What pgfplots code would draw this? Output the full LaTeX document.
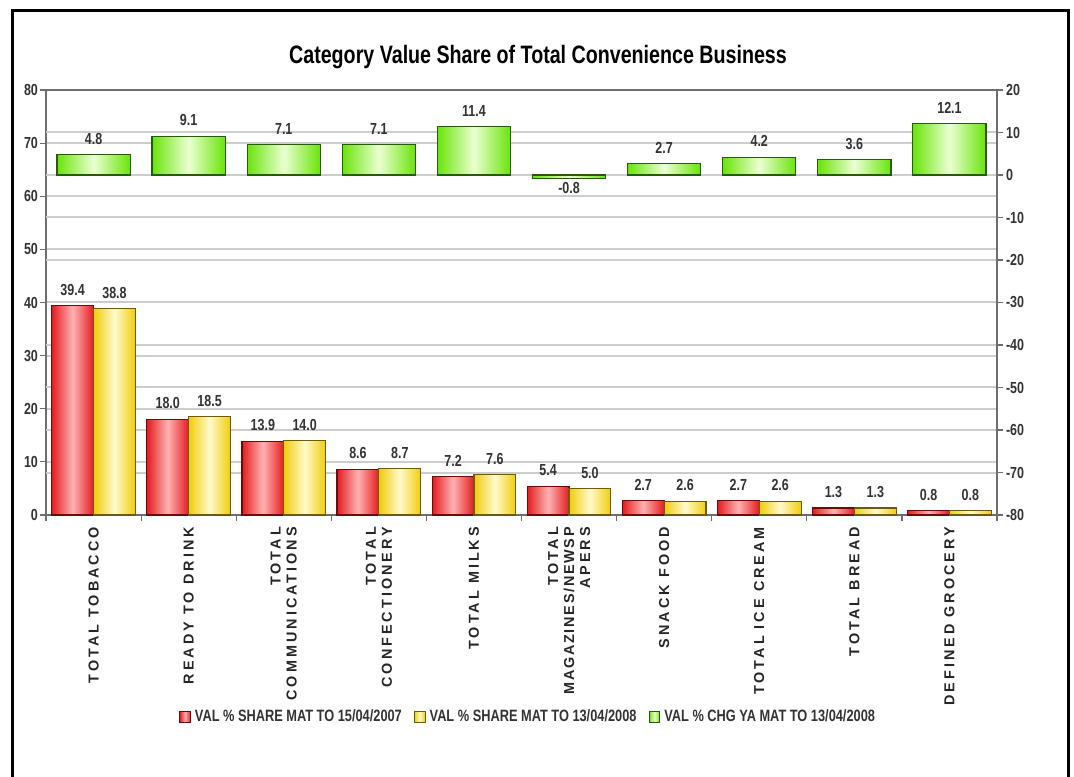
\documentclass[border=0pt]{standalone}
\usepackage{fontspec}
\setmainfont{Liberation Sans}
\newfontfamily\nb[FakeStretch=0.78]{Liberation Sans}
\newfontfamily\xl[LetterSpace=21]{Liberation Sans}
\usepackage{pgfplots}
\pgfplotsset{compat=1.18}

\definecolor{redE}{RGB}{228,28,32}
\definecolor{redM}{RGB}{255,178,178}
\definecolor{redD}{RGB}{110,10,10}
\definecolor{yelE}{RGB}{240,205,10}
\definecolor{yelM}{RGB}{255,250,205}
\definecolor{yelD}{RGB}{110,90,10}
\definecolor{grnE}{RGB}{105,228,10}
\definecolor{grnM}{RGB}{235,255,210}
\definecolor{grnD}{RGB}{40,90,10}
\definecolor{gridc}{RGB}{205,205,205}
\definecolor{axc}{RGB}{110,110,110}

\pgfplotsset{
  /pgf/number format/assume math mode=true,
  sq legend/.style={legend image code/.code={\draw[##1,line width=0.5pt] (0pt,-2.8pt) rectangle (5.4pt,2.8pt);}},
  lbl/.style={nodes near coords={\pgfmathprintnumber[fixed,fixed zerofill,precision=1]{\pgfplotspointmeta}},
    every node near coord/.append style={font=\nb\bfseries\fontsize{8}{9}\selectfont, text=black!80, yshift=1.5pt}},
  redbar/.style={ybar, bar width=0.44, bar shift=0pt, draw=redD, line width=0.6pt,
    left color=redE, right color=redE, middle color=redM, lbl, forget plot},
  yelbar/.style={ybar, bar width=0.44, bar shift=0pt, draw=yelD, line width=0.6pt,
    left color=yelE, right color=yelE, middle color=yelM, lbl, forget plot},
  grnbar/.style={ybar, bar width=0.77, bar shift=0pt, draw=grnD, line width=0.6pt,
    left color=grnE, right color=grnE, middle color=grnM, lbl, forget plot},
}

\begin{document}
\begin{tikzpicture}
\path[use as bounding box] (0,0) rectangle (537pt,388pt);
\draw[line width=1.5pt] (6pt,-2pt) -- (6pt,382.5pt) -- (534pt,382.5pt) -- (534pt,-2pt);
\node[font=\nb\bfseries\fontsize{12.6}{14}\selectfont] at (269pt,359.5pt) {Category Value Share of Total Convenience Business};

\begin{axis}[
  at={(23pt,130.5pt)}, anchor=south west,
  scale only axis, width=475.5pt, height=212.5pt,
  xmin=-0.5, xmax=9.5, ymin=0, ymax=80,
  xtick={-0.5,0.5,...,9.5}, xticklabels={},
  extra x ticks={0,1,2,3,4,5,6,7,8,9},
  extra x tick labels={TOTAL TOBACCO, READY TO DRINK, {TOTAL\\COMMUNICATIONS}, {TOTAL\\CONFECTIONERY}, TOTAL MILKS, {TOTAL\\{\addfontfeature{LetterSpace=12}MAGAZINES/NEWSP}\\APERS}, SNACK FOOD, TOTAL ICE CREAM, TOTAL BREAD, DEFINED GROCERY},
  extra x tick style={major tick length=0pt, grid=none},
  xticklabel style={rotate=90, anchor=east, align=right, xshift=-2.5pt, font=\xl\bfseries\fontsize{7.2}{8}\selectfont, text=black!85},
  ytick={0,10,...,80},
  ymajorgrids,
  extra y ticks={8,16,24,32,48,56,64,72}, extra y tick labels={},
  extra y tick style={grid=major, major tick length=0pt},
  grid style={gridc, line width=1pt},
  tick align=outside, major tick length=3pt,
  tick style={axc, line width=0.6pt},
  yticklabel style={font=\nb\bfseries\fontsize{8}{9}\selectfont, text=black!80, xshift=2.5pt},
  axis line style={axc, line width=0.9pt},
  ytick pos=left, xtick pos=bottom,
  legend style={at={(0.508,-0.475)}, anchor=center, draw=none, fill=none,
    legend columns=3, font=\nb\bfseries\fontsize{8.2}{9}\selectfont, text=black!80,
    /tikz/every even column/.append style={column sep=4pt},
    inner sep=0pt},
  legend cell align=left,
  clip=false,
]
% VAL % SHARE MAT TO 15/04/2007 (red), at category - 0.22
\addplot[redbar] coordinates {(-0.22,39.4)};
\addplot[redbar] coordinates {(0.78,18.0)};
\addplot[redbar] coordinates {(1.78,13.9)};
\addplot[redbar] coordinates {(2.78,8.6)};
\addplot[redbar] coordinates {(3.78,7.2)};
\addplot[redbar] coordinates {(4.78,5.4)};
\addplot[redbar] coordinates {(5.78,2.7)};
\addplot[redbar] coordinates {(6.78,2.7)};
\addplot[redbar] coordinates {(7.78,1.3)};
\addplot[redbar] coordinates {(8.78,0.8)};
% VAL % SHARE MAT TO 13/04/2008 (yellow), at category + 0.22
\addplot[yelbar] coordinates {(0.22,38.8)};
\addplot[yelbar] coordinates {(1.22,18.5)};
\addplot[yelbar] coordinates {(2.22,14.0)};
\addplot[yelbar] coordinates {(3.22,8.7)};
\addplot[yelbar] coordinates {(4.22,7.6)};
\addplot[yelbar] coordinates {(5.22,5.0)};
\addplot[yelbar] coordinates {(6.22,2.6)};
\addplot[yelbar] coordinates {(7.22,2.6)};
\addplot[yelbar] coordinates {(8.22,1.3)};
\addplot[yelbar] coordinates {(9.22,0.8)};
\addlegendimage{sq legend, draw=redD, left color=redE, right color=redE, middle color=redM}
\addlegendentry{VAL \% SHARE MAT TO 15/04/2007}
\addlegendimage{sq legend, draw=yelD, left color=yelE, right color=yelE, middle color=yelM}
\addlegendentry{VAL \% SHARE MAT TO 13/04/2008}
\addlegendimage{sq legend, draw=grnD, left color=grnE, right color=grnE, middle color=grnM}
\addlegendentry{VAL \% CHG YA MAT TO 13/04/2008}
\end{axis}

\begin{axis}[
  at={(23pt,130.5pt)}, anchor=south west,
  scale only axis, width=475.5pt, height=212.5pt,
  xmin=-0.5, xmax=9.5, ymin=-80, ymax=20,
  axis x line=none, axis y line*=right,
  ytick={-80,-70,...,20},
  tick align=outside, major tick length=3pt,
  tick style={axc, line width=0.6pt},
  yticklabel style={font=\nb\bfseries\fontsize{8}{9}\selectfont, text=black!80, xshift=-2pt},
  axis line style={axc, line width=0.9pt},
  clip=false,
]
% VAL % CHG YA MAT TO 13/04/2008 (green, right axis)
\addplot[grnbar] coordinates {(0,4.8)};
\addplot[grnbar] coordinates {(1,9.1)};
\addplot[grnbar] coordinates {(2,7.1)};
\addplot[grnbar] coordinates {(3,7.1)};
\addplot[grnbar] coordinates {(4,11.4)};
\addplot[grnbar] coordinates {(5,-0.8)};
\addplot[grnbar] coordinates {(6,2.7)};
\addplot[grnbar] coordinates {(7,4.2)};
\addplot[grnbar] coordinates {(8,3.6)};
\addplot[grnbar] coordinates {(9,12.1)};
\end{axis}
\end{tikzpicture}
\end{document}
